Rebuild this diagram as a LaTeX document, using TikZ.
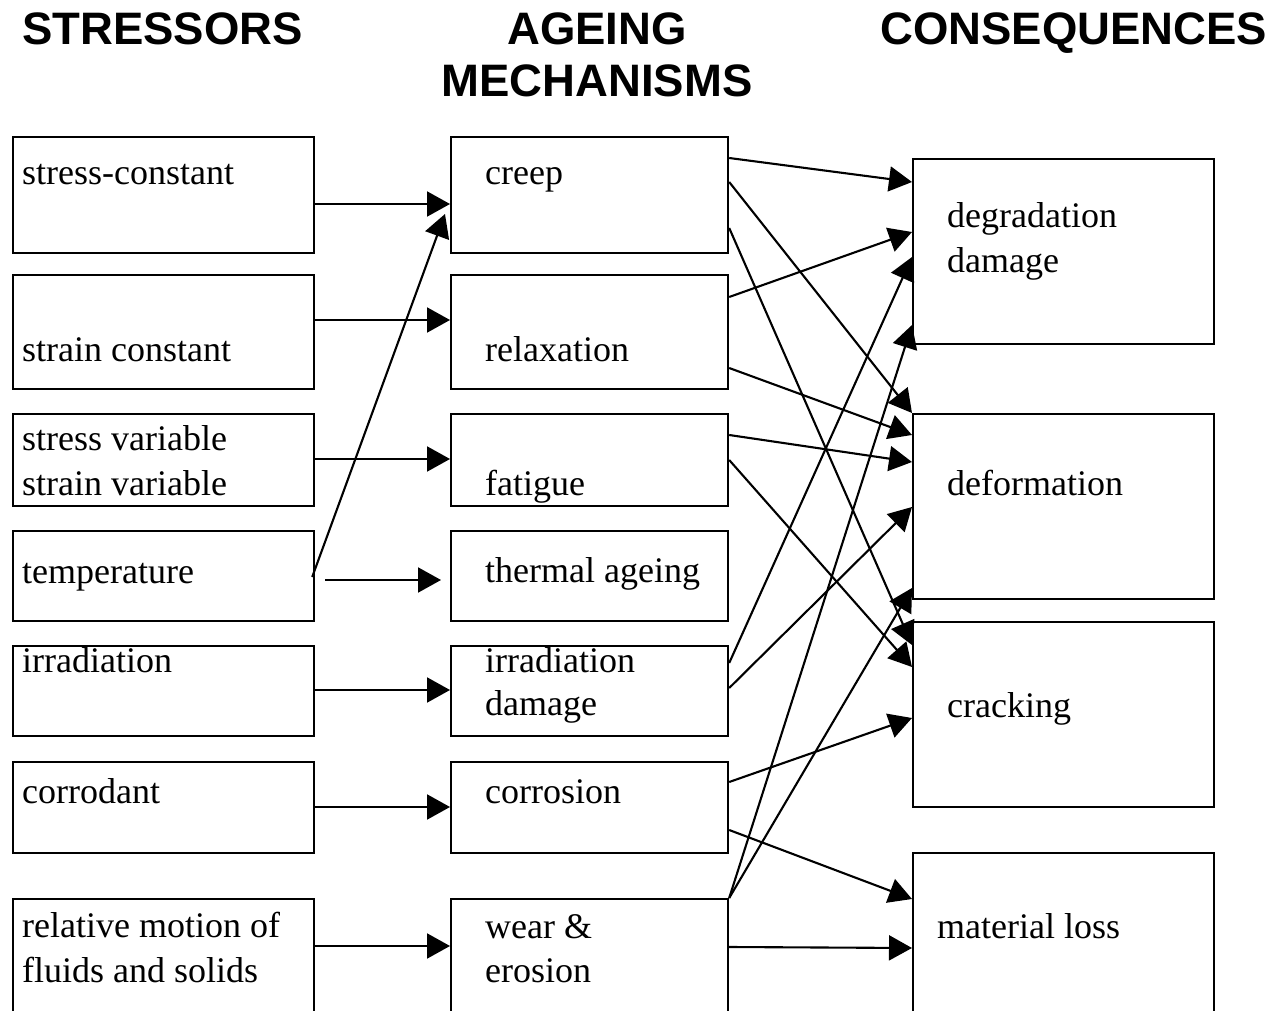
\documentclass[tikz,border=0pt]{standalone}
\usepackage{fontspec}
\setmainfont{Liberation Serif}
\newfontfamily\hdrfont{Liberation Sans}
\usetikzlibrary{arrows.meta,calc}
\begin{document}
\begin{tikzpicture}[x=1pt,y=-1pt,
  box/.style={draw,line width=2.2pt,inner sep=0pt,anchor=north west},
  lbl/.style={inner sep=0pt,anchor=base west,align=left,font=\fontsize{36}{45}\selectfont},
  hdr/.style={inner sep=0pt,align=center,font=\hdrfont\bfseries\fontsize{45.5}{52}\selectfont},
  arr/.style={line width=2.1pt,-{Triangle[length=23pt,width=25pt]}}]
\path[use as bounding box] (0,0) rectangle (1270,1011);
\clip (0,0) rectangle (1270,1011);
\fill[white] (0,0) rectangle (1270,1011);

% headers
\node[hdr,anchor=base west] (h1) at (22,45) {STRESSORS};
\node[hdr,anchor=base] (h2) at (597,97) {AGEING\\MECHANISMS};
\node[hdr,anchor=base west] (h3) at (880,45) {CONSEQUENCES};

% stressor boxes
\node[box,minimum width=301pt,minimum height=116pt] (s1) at (12,136) {};
\node[box,minimum width=301pt,minimum height=114pt] (s2) at (12,274) {};
\node[box,minimum width=301pt,minimum height=92pt] (s3) at (12,413) {};
\node[box,minimum width=301pt,minimum height=90pt] (s4) at (12,530) {};
\node[box,minimum width=301pt,minimum height=90pt] (s5) at (12,645) {};
\node[box,minimum width=301pt,minimum height=91pt] (s6) at (12,761) {};
\node[box,minimum width=301pt,minimum height=140pt] (s7) at (12,898) {};

% mechanism boxes
\node[box,minimum width=277pt,minimum height=116pt] (m1) at (450,136) {};
\node[box,minimum width=277pt,minimum height=114pt] (m2) at (450,274) {};
\node[box,minimum width=277pt,minimum height=92pt] (m3) at (450,413) {};
\node[box,minimum width=277pt,minimum height=90pt] (m4) at (450,530) {};
\node[box,minimum width=277pt,minimum height=90pt] (m5) at (450,645) {};
\node[box,minimum width=277pt,minimum height=91pt] (m6) at (450,761) {};
\node[box,minimum width=277pt,minimum height=140pt] (m7) at (450,898) {};

% consequence boxes
\node[box,minimum width=301pt,minimum height=185pt] (r1) at (912,158) {};
\node[box,minimum width=301pt,minimum height=185pt] (r2) at (912,413) {};
\node[box,minimum width=301pt,minimum height=185pt] (r3) at (912,621) {};
\node[box,minimum width=301pt,minimum height=200pt] (r4) at (912,852) {};

% texts (anchor = baseline of last line)
\node[lbl] (t11) at (22,185) {stress-constant};
\node[lbl] (t12) at (22,361) {strain constant};
\node[lbl] (t13) at (22,495) {stress variable\\strain variable};
\node[lbl] (t14) at (22,583) {temperature};
\node[lbl] (t15) at (22,672) {irradiation};
\node[lbl] (t16) at (22,803) {corrodant};
\node[lbl] (t17) at (22,982) {relative motion of\\fluids and solids};

\node[lbl] (t21) at (485,185) {creep};
\node[lbl] (t22) at (485,361) {relaxation};
\node[lbl] (t23) at (485,495) {fatigue};
\node[lbl] (t24) at (485,582) {thermal ageing};
\node[lbl,font=\fontsize{36}{43}\selectfont] (t25) at (485,715) {irradiation\\damage};
\node[lbl] (t26) at (485,803) {corrosion};
\node[lbl,font=\fontsize{36}{44}\selectfont] (t27) at (485,982) {wear \&\\erosion};

\node[lbl] (t31) at (947,273) {degradation\\damage};
\node[lbl] (t32) at (947,495) {deformation};
\node[lbl] (t33) at (947,717) {cracking};
\node[lbl] (t34) at (937,938) {material loss};

% stressors -> mechanisms
\draw[arr] (s1.east |- 0,204) -- (m1.west |- 0,204);
\draw[arr] (s2.east |- 0,320) -- (m2.west |- 0,320);
\draw[arr] (s3.east |- 0,459) -- (m3.west |- 0,459);
\draw[arr] ($(s4.east |- 0,577)+(-3,0)$) -- ($(m1.west |- 0,214)+(-5,0)$);
\draw[arr] ($(s4.east |- 0,580)+(10,0)$) -- ($(m4.west |- 0,580)+(-9,0)$);
\draw[arr] (s5.east |- 0,690) -- (m5.west |- 0,690);
\draw[arr] (s6.east |- 0,807) -- (m6.west |- 0,807);
\draw[arr] (s7.east |- 0,946) -- (m7.west |- 0,946);

% mechanisms -> consequences
\draw[arr] (m1.east |- 0,158) -- (r1.west |- 0,182);
\draw[arr] (m1.east |- 0,182) -- (r2.west |- 0,413);
\draw[arr] (m1.east |- 0,228) -- (r3.west |- 0,645);
\draw[arr] (m2.east |- 0,297) -- (r1.west |- 0,232);
\draw[arr] (m2.east |- 0,368) -- (r2.west |- 0,435);
\draw[arr] (m3.east |- 0,435) -- (r2.west |- 0,462);
\draw[arr] (m3.east |- 0,460) -- (r3.west |- 0,667);
\draw[arr] (m5.east |- 0,663) -- (r1.west |- 0,257);
\draw[arr] (m5.east |- 0,688) -- (r2.west |- 0,507);
\draw[arr] (m6.east |- 0,782) -- (r3.west |- 0,718);
\draw[arr] (m6.east |- 0,830) -- (r4.west |- 0,899);
\draw[arr] (m7.north east) -- (r1.west |- 0,325);
\draw[arr] (m7.north east) -- (r2.west |- 0,588);
\draw[arr] (m7.east |- 0,947) -- (r4.west |- 0,948);
\end{tikzpicture}
\end{document}
